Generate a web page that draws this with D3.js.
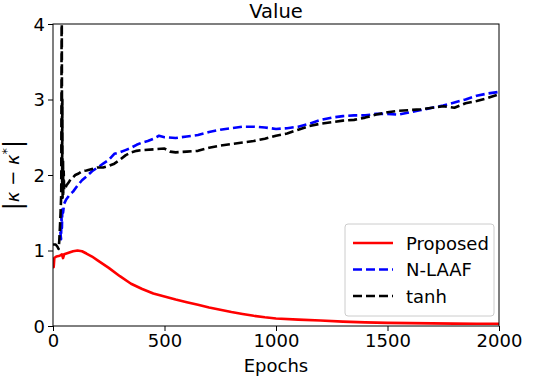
<!DOCTYPE html>
<html>
<head>
<meta charset="utf-8">
<script src="https://cdn.jsdelivr.net/npm/d3@7"></script>
<style>
  body { margin: 0; background: #fff; }
  text { font-family: "DejaVu Sans", sans-serif; }
</style>
</head>
<body>
<div id="chart"></div>
<script>
// epochs / values
var proposed = [[0,0.85],[3,0.78],[6,0.9],[15,0.92],[30,0.93],[40,0.95],[45,0.9],[50,0.95],[70,0.97],[90,0.99],[110,1.0],[130,0.99],[150,0.96],[175,0.92],[200,0.87],[250,0.77],[300,0.66],[350,0.56],[400,0.49],[450,0.43],[500,0.39],[550,0.35],[600,0.315],[650,0.28],[700,0.245],[750,0.215],[800,0.185],[850,0.16],[900,0.135],[950,0.115],[1000,0.1],[1100,0.085],[1200,0.072],[1300,0.058],[1400,0.048],[1500,0.042],[1600,0.038],[1700,0.035],[1800,0.032],[1900,0.03],[2000,0.03]];

var nlaaf = [[33,1.25],[36,1.15],[38,1.45],[40,1.3],[42,1.58],[45,1.5],[50,1.62],[60,1.68],[75,1.74],[90,1.78],[110,1.86],[130,1.93],[150,1.98],[175,2.05],[200,2.1],[225,2.15],[250,2.2],[275,2.28],[300,2.3],[325,2.33],[350,2.36],[375,2.4],[400,2.43],[425,2.45],[450,2.48],[475,2.52],[500,2.5],[550,2.49],[600,2.51],[650,2.53],[700,2.57],[750,2.6],[800,2.62],[850,2.64],[900,2.64],[950,2.63],[1000,2.61],[1050,2.62],[1100,2.64],[1150,2.68],[1200,2.73],[1250,2.76],[1300,2.78],[1350,2.79],[1400,2.79],[1450,2.81],[1500,2.81],[1550,2.8],[1600,2.83],[1650,2.86],[1700,2.89],[1750,2.92],[1800,2.96],[1850,3.0],[1900,3.05],[1950,3.08],[2000,3.1]];

var tanh = [[0,1.08],[12,1.08],[20,1.05],[25,1.02],[28,1.12],[31,1.3],[34,1.5],[37,1.75],[39,4.6],[41,1.9],[42,3.0],[43,1.7],[45,2.2],[46,1.75],[48,2.05],[50,1.8],[55,1.82],[60,1.86],[65,1.88],[70,1.9],[80,1.95],[90,1.97],[100,2.0],[115,2.02],[130,2.05],[150,2.06],[175,2.08],[200,2.1],[225,2.1],[250,2.12],[275,2.15],[300,2.2],[325,2.26],[350,2.3],[375,2.32],[400,2.33],[450,2.34],[500,2.35],[525,2.31],[550,2.3],[600,2.31],[650,2.32],[700,2.36],[750,2.39],[800,2.41],[850,2.43],[900,2.45],[950,2.48],[1000,2.52],[1050,2.55],[1100,2.6],[1150,2.65],[1200,2.68],[1250,2.7],[1300,2.72],[1350,2.73],[1400,2.76],[1450,2.8],[1500,2.83],[1550,2.85],[1600,2.86],[1650,2.87],[1700,2.89],[1750,2.91],[1800,2.89],[1850,2.95],[1900,2.98],[1950,3.02],[2000,3.07]];

var xTicks = [0, 500, 1000, 1500, 2000];
var yTicks = [0, 1, 2, 3, 4];

var width = 545, height = 381;
var margin = { top: 24, right: 46, bottom: 55, left: 53 };

var svg = d3.select('#chart').append('svg')
  .attr('width', width)
  .attr('height', height);

var x = d3.scaleLinear().domain([0, 2000]).range([margin.left, width - margin.right]);
var y = d3.scaleLinear().domain([0, 4]).range([height - margin.bottom, margin.top]);

svg.append('clipPath').attr('id', 'plot-clip')
  .append('rect')
  .attr('x', margin.left).attr('y', margin.top)
  .attr('width', width - margin.left - margin.right)
  .attr('height', height - margin.top - margin.bottom);

var line = d3.line()
  .x(function (d) { return x(d[0]); })
  .y(function (d) { return y(d[1]); });

var series = [
  { name: 'Proposed', data: proposed, color: '#ff0000', dash: null },
  { name: 'N-LAAF', data: nlaaf, color: '#0000ff', dash: '9,4' },
  { name: 'tanh', data: tanh, color: '#000000', dash: '9,4' }
];

var plot = svg.append('g').attr('clip-path', 'url(#plot-clip)');
series.forEach(function (s) {
  plot.append('path')
    .datum(s.data)
    .attr('d', line)
    .attr('fill', 'none')
    .attr('stroke', s.color)
    .attr('stroke-width', 2.6)
    .attr('stroke-linejoin', 'round')
    .attr('stroke-dasharray', s.dash);
});

// axes
var xAxis = svg.append('g')
  .attr('transform', 'translate(0,' + (height - margin.bottom) + ')')
  .call(d3.axisBottom(x).tickValues(xTicks).tickFormat(d3.format('d')).tickSize(5).tickPadding(3));
var yAxis = svg.append('g')
  .attr('transform', 'translate(' + margin.left + ',0)')
  .call(d3.axisLeft(y).tickValues(yTicks).tickFormat(d3.format('d')).tickSize(5).tickPadding(3));

[xAxis, yAxis].forEach(function (a) {
  a.selectAll('text').attr('font-size', 18).attr('fill', '#000')
    .attr('font-family', '"DejaVu Sans", sans-serif');
  a.select('.domain').remove();
  a.selectAll('line').attr('stroke', '#000');
});
yAxis.selectAll('text').attr('dy', '0.36em');

// frame
svg.append('rect')
  .attr('x', margin.left).attr('y', margin.top)
  .attr('width', width - margin.left - margin.right)
  .attr('height', height - margin.top - margin.bottom)
  .attr('fill', 'none').attr('stroke', '#000').attr('stroke-width', 1);

// title + labels
svg.append('text')
  .attr('x', (margin.left + width - margin.right) / 2).attr('y', 18)
  .attr('text-anchor', 'middle').attr('font-size', 19.5).text('Value');

svg.append('text')
  .attr('x', (margin.left + width - margin.right) / 2).attr('y', 372)
  .attr('text-anchor', 'middle').attr('font-size', 18).text('Epochs');

var yl = svg.append('text')
  .attr('transform', 'translate(19,' + ((margin.top + height - margin.bottom) / 2) + ') rotate(-90)')
  .attr('text-anchor', 'middle').attr('font-size', 18);
yl.append('tspan').attr('font-size', 24).attr('dy', 2).text('|');
yl.append('tspan').attr('font-style', 'italic').attr('dy', -2).text('κ');
yl.append('tspan').text(' − ');
yl.append('tspan').attr('font-style', 'italic').text('κ');
yl.append('tspan').attr('font-size', 13).attr('dy', -8).text('*');
yl.append('tspan').attr('font-size', 24).attr('dy', 10).text('|');

// legend
var lg = svg.append('g').attr('transform', 'translate(345,224)');
lg.append('rect')
  .attr('width', 149).attr('height', 92).attr('rx', 3)
  .attr('fill', '#fff').attr('fill-opacity', 0.8)
  .attr('stroke', '#cccccc');
series.forEach(function (s, i) {
  var ly = 19 + i * 26.5;
  lg.append('line')
    .attr('x1', 8).attr('x2', 48).attr('y1', ly).attr('y2', ly)
    .attr('stroke', s.color).attr('stroke-width', 2.6)
    .attr('stroke-dasharray', s.dash);
  lg.append('text')
    .attr('x', 61).attr('y', ly + 6.5)
    .attr('font-size', 18).text(s.name);
});
</script>
</body>
</html>
